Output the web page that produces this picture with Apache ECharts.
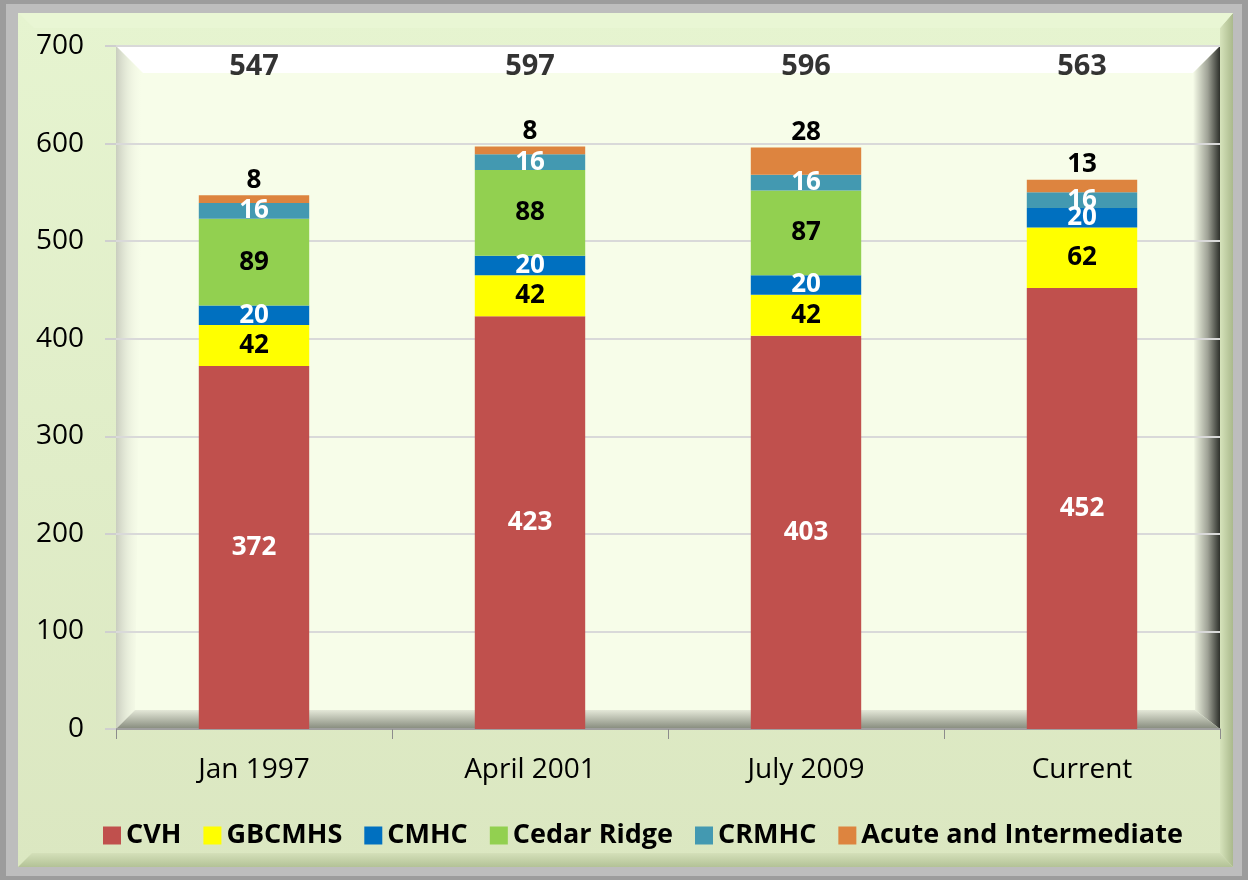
<!doctype html>
<html lang="en">
<head>
    <meta charset="UTF-8">
    <title>Beds by facility</title>
    <script src="https://cdn.jsdelivr.net/npm/echarts@6/dist/echarts.min.js"></script>
    <style>
        html, body { margin: 0; padding: 0; background: #fff; }
        #chart { width: 1248px; height: 880px; }
    </style>
</head>
<body>
<div id="chart"></div>
<script>
    // ---------- data ----------
    var categories = ['Jan 1997', 'April 2001', 'July 2009', 'Current'];
    var cvh = [372, 423, 403, 452];
    var gbcmhs = [42, 42, 42, 62];
    var cmhc = [20, 20, 20, 20];
    var cedarRidge = [89, 88, 87, 0];
    var crmhc = [16, 16, 16, 16];
    var acute = [8, 8, 28, 13];
    var yTicks = [0, 100, 200, 300, 400, 500, 600, 700];

    var totals = categories.map(function (c, i) {
        return cvh[i] + gbcmhs[i] + cmhc[i] + cedarRidge[i] + crmhc[i] + acute[i];
    });

    var FONT = '"Open Sans", "Noto Sans", sans-serif';
    var chart = echarts.init(document.getElementById('chart'));

    function seg(name, data, color, labelColor, pos) {
        return {
            name: name,
            type: 'bar',
            stack: 'all',
            barWidth: '40%',
            data: data.map(function (v) { return v === 0 ? null : v; }),
            itemStyle: { color: color },
            label: {
                show: true,
                position: pos || 'inside',
                color: labelColor,
                fontFamily: FONT,
                fontWeight: 'bold',
                fontSize: 26,
                distance: 2
            }
        };
    }

    // background panels (bevel look)
    var bg = [
        // outer grey shadow frame
        { type: 'rect', z: -10, shape: { x: 0, y: 0, width: 1248, height: 880 },
          style: { fill: '#9c9c9c' } },
        { type: 'rect', z: -10, shape: { x: 6, y: 4, width: 1236, height: 872 },
          style: { fill: '#bdbdbd' } },
        // main green panel
        { type: 'rect', z: -9, shape: { x: 18, y: 13, width: 1215, height: 854 },
          style: { fill: new echarts.graphic.LinearGradient(0, 0, 0, 1, [
              { offset: 0, color: '#e6f4d0' }, { offset: 1, color: '#dbe7c1' }]) } },
        // panel bevel right / bottom / top
        { type: 'polygon', z: -8, shape: { points: [[1220, 28], [1233, 13], [1233, 867], [1220, 853]] },
          style: { fill: new echarts.graphic.LinearGradient(0, 0, 1, 0, [
              { offset: 0, color: '#d6e3bb' }, { offset: 1, color: '#aab98c' }]) } },
        { type: 'polygon', z: -8, shape: { points: [[32, 853], [1220, 853], [1233, 867], [18, 867]] },
          style: { fill: new echarts.graphic.LinearGradient(0, 0, 0, 1, [
              { offset: 0, color: '#d4e0b9' }, { offset: 1, color: '#b3c296' }]) } },
        { type: 'polygon', z: -8, shape: { points: [[18, 13], [1233, 13], [1220, 28], [34, 28]] },
          style: { fill: '#e9f6d4' } },
        // plot wall
        { type: 'rect', z: -7, shape: { x: 116, y: 46, width: 1104, height: 683 },
          style: { fill: '#f7fde9' } },
        // top white band
        { type: 'polygon', z: -6, shape: { points: [[116, 46], [1220, 46], [1193, 73], [143, 73]] },
          style: { fill: '#ffffff' } },
        // left wall shade
        { type: 'polygon', z: -6, shape: { points: [[116, 46], [143, 73], [135, 710], [116, 729]] },
          style: { fill: new echarts.graphic.LinearGradient(0, 0, 1, 0, [
              { offset: 0, color: '#c9cdbf' }, { offset: 1, color: 'rgba(247,253,233,0)' }]) } },
        // right wall dark edge
        { type: 'polygon', z: -6, shape: { points: [[1193, 73], [1220, 46], [1220, 729], [1195, 710]] },
          style: { fill: new echarts.graphic.LinearGradient(0, 0, 1, 0, [
              { offset: 0, color: '#f7fde9' }, { offset: 0.55, color: '#9ea195' }, { offset: 1, color: '#2e302b' }]) } },
        // floor
        { type: 'polygon', z: -6, shape: { points: [[135, 710], [1195, 710], [1220, 729], [116, 729]] },
          style: { fill: new echarts.graphic.LinearGradient(0, 0, 0, 1, [
              { offset: 0, color: '#e4e8d8' }, { offset: 1, color: '#858a7c' }]) } }
    ];

    var option = {
        animation: false,
        backgroundColor: '#ffffff',
        graphic: bg,
        grid: { left: 116, right: 28, top: 46, bottom: 151 },
        legend: {
            data: ['CVH', 'GBCMHS', 'CMHC', 'Cedar Ridge', 'CRMHC', 'Acute and Intermediate'],
            left: 98,
            top: 817,
            itemWidth: 18,
            itemHeight: 18,
            itemGap: 22,
            icon: 'rect',
            textStyle: { fontFamily: FONT, fontWeight: 'bold', fontSize: 27, color: '#000' }
        },
        xAxis: {
            type: 'category',
            data: categories,
            axisLine: { lineStyle: { color: '#8c8c8c', width: 1.5 } },
            axisTick: { show: true, length: 10, lineStyle: { color: '#8c8c8c' } },
            axisLabel: { fontFamily: FONT, fontSize: 28, color: '#000', margin: 27 }
        },
        yAxis: {
            type: 'value',
            min: yTicks[0],
            max: yTicks[yTicks.length - 1],
            interval: 100,
            axisLine: { show: false },
            axisTick: { show: true, length: 11, lineStyle: { color: '#cfcfcf', width: 2 } },
            splitLine: { lineStyle: { color: '#d9d9d9', width: 2 } },
            axisLabel: { fontFamily: FONT, fontSize: 28, color: '#000', margin: 32 }
        },
        series: [
            seg('CVH', cvh, '#c0504d', '#ffffff'),
            seg('GBCMHS', gbcmhs, '#ffff00', '#000000'),
            seg('CMHC', cmhc, '#0070c0', '#ffffff'),
            seg('Cedar Ridge', cedarRidge, '#92d050', '#000000'),
            seg('CRMHC', crmhc, '#4399b1', '#ffffff'),
            seg('Acute and Intermediate', acute, '#dd843f', '#000000', 'top'),
            {
                name: 'Total',
                type: 'scatter',
                symbolSize: 0,
                data: categories.map(function (c) { return [c, 679]; }),
                label: {
                    show: true,
                    position: 'inside',
                    formatter: function (p) { return totals[p.dataIndex]; },
                    fontFamily: FONT,
                    fontWeight: 'bold',
                    fontSize: 29,
                    color: '#000'
                }
            }
        ]
    };
    chart.setOption(option);
</script>
</body>
</html>
